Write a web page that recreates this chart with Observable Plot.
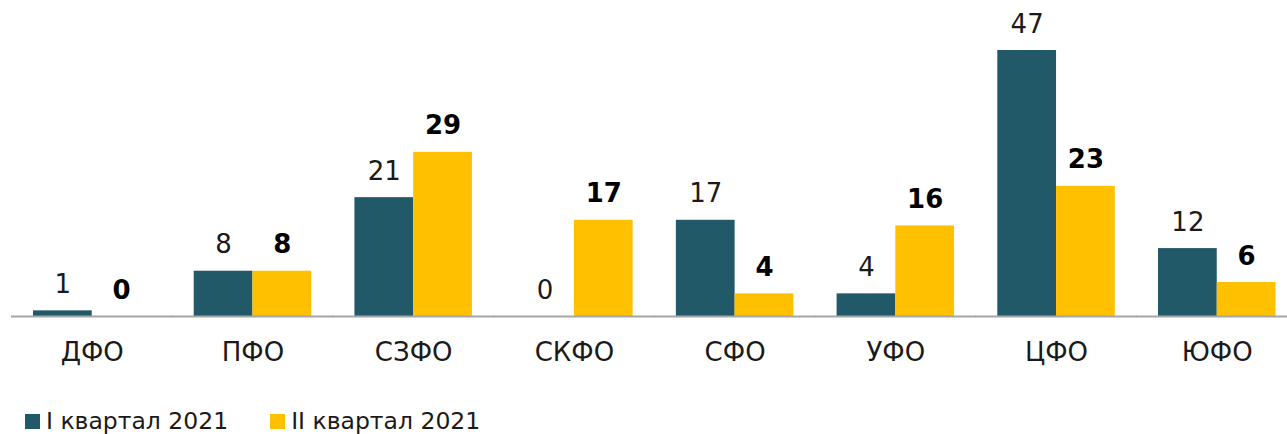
<!DOCTYPE html>
<html><head><meta charset="utf-8">
<script src="https://cdn.jsdelivr.net/npm/d3@7"></script>
<script src="https://cdn.jsdelivr.net/npm/@observablehq/plot@0.6"></script>
<style>
body{margin:0;background:#fff;font-family:"DejaVu Sans",sans-serif;}
#legend{display:flex;align-items:center;height:34px;padding-top:4px;padding-left:25px;font-size:23.5px;color:#1a1a1a;}
.item{display:flex;align-items:center;margin-right:42px;}
.sw{width:15px;height:15px;margin-right:6px;}
</style>
</head><body><div id="chart"></div><div id="legend"></div>
<script>
const regions = ["ДФО","ПФО","СЗФО","СКФО","СФО","УФО","ЦФО","ЮФО"];
const series = ["I квартал 2021","II квартал 2021"];
const q1 = [1,8,21,0,17,4,47,12];
const q2 = [0,8,29,17,4,16,23,6];
const colors = ["#215968","#FFC000"];

const data = regions.flatMap((r,i)=>[
  {region:r, series:series[0], value:q1[i]},
  {region:r, series:series[1], value:q2[i]}
]);

const chart = Plot.plot({
  width:1287, height:400,
  marginTop:50, marginBottom:84, marginLeft:33, marginRight:11.5,
  style:{fontFamily:"DejaVu Sans", fontSize:"26px", color:"#1a1a1a", background:"#fff"},
  fx:{domain:regions, paddingInner:0.269, paddingOuter:0, round:false, axis:"bottom", tickSize:0, tickPadding:26, label:null},
  x:{domain:series, axis:null, padding:0, round:false},
  y:{domain:[0,47], axis:null},
  color:{domain:series, range:colors},
  marks:[
    Plot.barY(data,{fx:"region", x:"series", y:"value", fill:"series"}),
    Plot.ruleY([0],{stroke:"#A6A6A6", strokeWidth:2, insetLeft:-22, insetRight:-22}),
    Plot.text(data.filter(d=>d.series===series[0]),{fx:"region", x:"series", y:"value", text:"value", lineAnchor:"bottom", dy:-18, fontSize:26, fill:"#1a1a1a"}),
    Plot.text(data.filter(d=>d.series===series[1]),{fx:"region", x:"series", y:"value", text:"value", lineAnchor:"bottom", dy:-18, fontSize:26, fontWeight:"bold", fill:"#000"})
  ]
});
document.getElementById("chart").append(chart);

const items = d3.select("#legend").selectAll(".item").data(series).join("div").attr("class","item");
items.append("div").attr("class","sw").style("background",(d,i)=>colors[i]);
items.append("span").text(d=>d);
</script>
</body></html>
